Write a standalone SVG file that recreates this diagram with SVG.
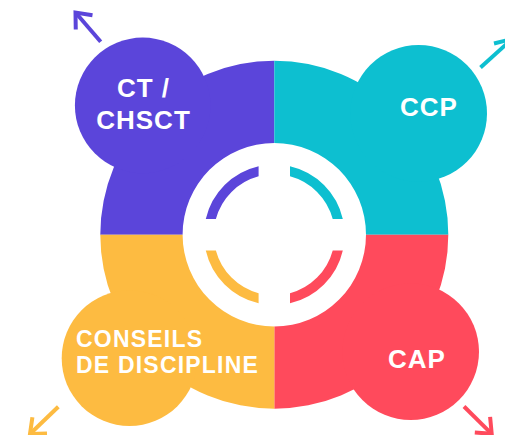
<svg xmlns="http://www.w3.org/2000/svg" width="505" height="435" viewBox="0 0 505 435">
<style>
.lbl{font-family:"Liberation Sans",Arial,sans-serif;font-weight:bold;fill:#ffffff;}
.big{font-size:26px;letter-spacing:1px;}
.mid{font-size:23px;letter-spacing:1.2px;}
.arr{fill:none;stroke-width:4;stroke-linecap:butt;stroke-linejoin:miter;}
.purple{fill:#5B45DA;}
.cyan{fill:#0DBFD0;}
.yellow{fill:#FDBB41;}
.red{fill:#FF4A5C;}
</style>
<rect width="505" height="435" fill="#ffffff"/>
<g id="node-ct-chsct">
<path class="purple" d="M100.3,234.7 A174,174 0 0 1 274.3,60.7 L274.3,143 A91.7,91.7 0 0 0 182.6,234.7 Z"/>
<circle class="purple" cx="142.7" cy="105.4" r="67.8"/>
<path class="purple" d="M258.6,166.18 A70.3,70.3 0 0 0 205.78,219 L215.87,219 A60.5,60.5 0 0 1 258.6,176.27 Z"/>
<text class="lbl big" x="143.5" y="97" text-anchor="middle">CT /</text>
<text class="lbl big" x="143.5" y="129" text-anchor="middle">CHSCT</text>
</g>
<g id="node-ccp">
<path class="cyan" d="M274.3,60.7 A174,174 0 0 1 448.3,234.7 L366,234.7 A91.7,91.7 0 0 0 274.3,143 Z"/>
<circle class="cyan" cx="418.6" cy="113.4" r="68.4"/>
<path class="cyan" d="M290,166.18 A70.3,70.3 0 0 1 342.82,219 L332.73,219 A60.5,60.5 0 0 0 290,176.27 Z"/>
<text class="lbl big" x="429" y="115.7" text-anchor="middle">CCP</text>
</g>
<g id="node-cap">
<path class="red" d="M448.3,234.7 A174,174 0 0 1 274.3,408.7 L274.3,326.4 A91.7,91.7 0 0 0 366,234.7 Z"/>
<circle class="red" cx="410.7" cy="351.7" r="68.3"/>
<path class="red" d="M342.82,250.4 A70.3,70.3 0 0 1 290,303.22 L290,293.13 A60.5,60.5 0 0 0 332.73,250.4 Z"/>
<text class="lbl big" x="417" y="367.7" text-anchor="middle">CAP</text>
</g>
<g id="node-conseils">
<path class="yellow" d="M274.3,408.7 A174,174 0 0 1 100.3,234.7 L182.6,234.7 A91.7,91.7 0 0 0 274.3,326.4 Z"/>
<circle class="yellow" cx="129.5" cy="358.2" r="67.8"/>
<path class="yellow" d="M258.6,303.22 A70.3,70.3 0 0 1 205.78,250.4 L215.87,250.4 A60.5,60.5 0 0 0 258.6,293.13 Z"/>
<text class="lbl mid" x="76" y="347.3">CONSEILS</text>
<text class="lbl mid" x="76" y="372.7">DE DISCIPLINE</text>
</g>
<g id="connectors">
<g stroke="#5B45DA" class="arr">
<line x1="100.7" y1="41.7" x2="75.5" y2="12.5"/>
<polyline points="92.5,15.2 75.5,12.5 75.75,29.5"/>
</g>
<g stroke="#0DBFD0" class="arr">
<line x1="480.5" y1="67.5" x2="512" y2="39"/>
<polyline points="494,43.5 512,39 511,56"/>
</g>
<g stroke="#FDBB41" class="arr">
<line x1="58.3" y1="406.7" x2="30" y2="434"/>
<polyline points="32.4,417.2 30,434 47,433.4"/>
</g>
<g stroke="#FF4A5C" class="arr">
<line x1="464" y1="406.5" x2="491.7" y2="433.8"/>
<polyline points="490.1,416.9 491.7,433.8 474.8,432.5"/>
</g>
</g>
</svg>
